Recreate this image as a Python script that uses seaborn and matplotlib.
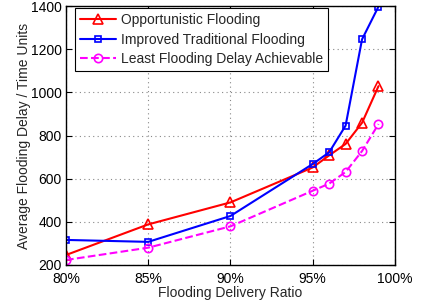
import matplotlib
matplotlib.use("Agg")
import matplotlib.pyplot as plt
import seaborn as sns
import pandas as pd
from matplotlib.ticker import FuncFormatter

ratio = [80, 85, 90, 95, 96, 97, 98, 99]
opportunistic = [246, 388, 490, 652, 708, 761, 859, 1029]
improved = [316, 307, 427, 668, 722, 846, 1246, 1398]
least = [223, 280, 379, 544, 577, 631, 728, 853]
labels = ["Opportunistic Flooding", "Improved Traditional Flooding", "Least Flooding Delay Achievable"]

sns.set_style("white")
plt.rcParams['font.family'] = ['Liberation Sans', 'DejaVu Sans']
plt.rcParams['font.size'] = 10

df = pd.DataFrame({
    "ratio": ratio * 3,
    "delay": opportunistic + improved + least,
    "series": [labels[0]] * 8 + [labels[1]] * 8 + [labels[2]] * 8,
})

fig = plt.figure(figsize=(4.34, 3.07), dpi=100)
ax = fig.add_axes([0.152, 0.137, 0.758, 0.843])

styles = {
    labels[0]: dict(color="#ff0000", marker="^", ls="-", ms=7),
    labels[1]: dict(color="#0000ff", marker="s", ls="-", ms=5),
    labels[2]: dict(color="#ff00ff", marker="o", ls="--", ms=6),
}
for lab in labels:
    st = styles[lab]
    sub = df[df["series"] == lab]
    sns.lineplot(data=sub, x="ratio", y="delay", ax=ax, color=st["color"],
                 linestyle=st["ls"], marker=st["marker"], markersize=st["ms"],
                 markerfacecolor="none", markeredgecolor=st["color"],
                 markeredgewidth=1.2, linewidth=1.5, label=lab)

ax.set_xlim(80, 100)
ax.set_ylim(200, 1400)
ax.set_xticks([80, 85, 90, 95, 100])
ax.xaxis.set_major_formatter(FuncFormatter(lambda v, p: f"{int(v)}%"))
ax.set_yticks([200, 400, 600, 800, 1000, 1200, 1400])
ax.grid(True, linestyle=(0, (1, 3)), color="#888888", linewidth=0.8)
ax.tick_params(direction="in", length=4, width=0.8, colors="black", labelsize=10,
               top=True, right=True, bottom=True, left=True)
ax.tick_params(axis="x", pad=5)
ax.tick_params(axis="y", pad=3)
for s in ax.spines.values():
    s.set_color("black")
    s.set_linewidth(1.0)
ax.set_xlabel("Flooding Delivery Ratio", fontsize=10, labelpad=0)
ax.set_ylabel("Average Flooding Delay / Time Units", fontsize=10, labelpad=0)

leg = ax.legend(loc="upper left", bbox_to_anchor=(9 / 330, 1 - 2 / 259),
                fancybox=False, framealpha=1, edgecolor="black",
                fontsize=10, handlelength=2.6, borderpad=0.35, labelspacing=0.4,
                borderaxespad=0.0, handletextpad=0.4)
leg.get_frame().set_linewidth(0.8)

fig.savefig("out.png", dpi=100)
